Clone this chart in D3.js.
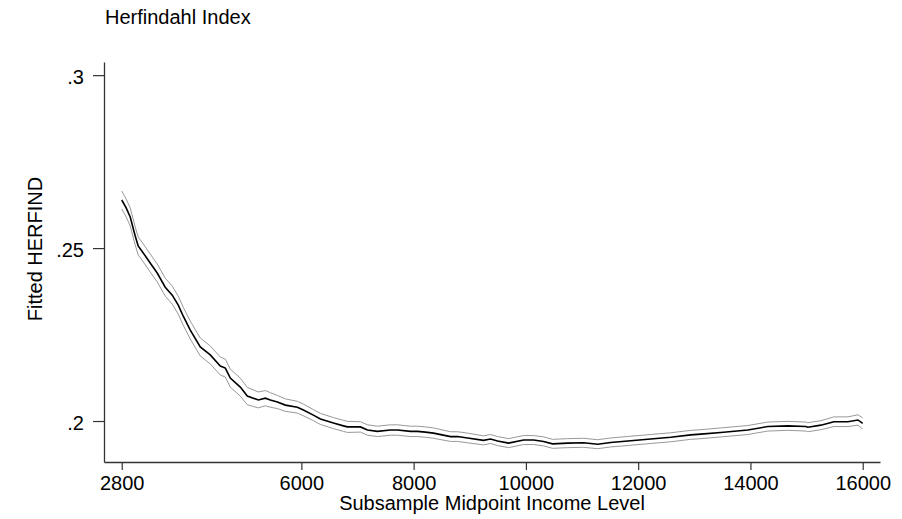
<!DOCTYPE html>
<html>
<head>
<meta charset="utf-8">
<script src="https://cdn.jsdelivr.net/npm/d3@7"></script>
<style>
  html, body { margin: 0; padding: 0; background: #fff; }
  svg { display: block; font-family: "Liberation Sans", Arial, sans-serif; }
</style>
</head>
<body>
<svg id="chart" width="902" height="519"></svg>
<script>
const chartTitle = "Herfindahl Index";
const xTitle = "Subsample Midpoint Income Level";
const yTitle = "Fitted HERFIND";
const xTicks = [2800, 6000, 8000, 10000, 12000, 14000, 16000];
const yTicks = [0.2, 0.25, 0.3];
const yTickLabels = [".2", ".25", ".3"];

const income = [2800, 2879, 2951, 3040, 3093, 3183, 3307, 3432, 3575, 3700, 3807, 3896, 4021, 4199, 4377, 4556, 4645, 4734, 4912, 5037,
  5144, 5233, 5358, 5447, 5572, 5715, 5929, 6036, 6214, 6339, 6571, 6749, 6820, 7052, 7177, 7355, 7587, 7712, 7944, 8069,
  8211, 8354, 8657, 8782, 8960, 9245, 9370, 9495, 9691, 9959, 10137, 10315, 10476, 10743, 11029, 11278, 11510, 11867, 12223, 12580,
  12937, 13115, 13472, 13953, 14310, 14666, 14987, 15023, 15255, 15487, 15736, 15915, 16000];
const fitted = [.2639, .2616, .2590, .2535, .2506, .2486, .2457, .2428, .2387, .2364, .2335, .2303, .2263, .2214, .2191, .2159, .2153, .2124, .2098, .2072,
  .2066, .2061, .2066, .2061, .2055, .2046, .2040, .2032, .2017, .2006, .1994, .1986, .1983, .1983, .1974, .1970, .1974, .1974, .1970, .1970,
  .1968, .1965, .1955, .1955, .1951, .1944, .1948, .1942, .1936, .1945, .1945, .1941, .1934, .1936, .1937, .1933, .1938, .1943, .1948, .1953,
  .1960, .1962, .1967, .1974, .1984, .1986, .1984, .1982, .1988, .1998, .1998, .2003, .1993];
const upper = [.2665, .2642, .2616, .2561, .2532, .2512, .2483, .2454, .2413, .2390, .2361, .2329, .2289, .2240, .2217, .2185, .2179, .2150, .2124, .2097,
  .2090, .2084, .2088, .2082, .2074, .2064, .2057, .2049, .2033, .2022, .2010, .2002, .1999, .1998, .1989, .1985, .1989, .1989, .1985, .1985,
  .1983, .1980, .1969, .1969, .1965, .1957, .1961, .1955, .1949, .1958, .1958, .1954, .1947, .1949, .1950, .1946, .1951, .1956, .1961, .1966,
  .1973, .1975, .1980, .1987, .1997, .1999, .1997, .1995, .2001, .2012, .2012, .2018, .2009];
const lower = [.2613, .2590, .2564, .2509, .2480, .2460, .2431, .2402, .2361, .2338, .2309, .2277, .2237, .2188, .2165, .2133, .2127, .2098, .2072, .2047,
  .2042, .2038, .2044, .2040, .2036, .2028, .2023, .2015, .2001, .1990, .1978, .1970, .1967, .1968, .1959, .1955, .1959, .1959, .1955, .1955,
  .1953, .1950, .1941, .1941, .1937, .1931, .1935, .1929, .1923, .1932, .1932, .1928, .1921, .1923, .1924, .1920, .1925, .1930, .1935, .1940,
  .1947, .1949, .1954, .1961, .1971, .1973, .1971, .1969, .1975, .1984, .1984, .1988, .1977];

const svg = d3.select("#chart");
const mLeft = 104, mRight = 880, mTop = 62, mBottom = 462;

const x = d3.scaleLinear().domain([2484, 16308]).range([mLeft, mRight]);
const y = d3.scaleLinear().domain([0.18815, 0.3038]).range([mBottom, mTop]);

const FS = 20;
const axisColor = "#333";

// axes
const xAxis = svg.append("g").attr("transform", `translate(0,${mBottom})`)
  .call(d3.axisBottom(x).tickValues(xTicks).tickSize(8).tickSizeOuter(0).tickPadding(6).tickFormat(d3.format("d")));
const yAxis = svg.append("g").attr("transform", `translate(${mLeft},0)`)
  .call(d3.axisLeft(y).tickValues(yTicks).tickSize(11).tickSizeOuter(0).tickPadding(9)
    .tickFormat((d, i) => yTickLabels[i]));
[xAxis, yAxis].forEach(g => {
  g.select(".domain").attr("stroke", axisColor).attr("stroke-width", 1.3);
  g.selectAll(".tick line").attr("stroke", axisColor).attr("stroke-width", 1.2);
  g.selectAll(".tick text").attr("fill", "#000").style("font-size", FS + "px")
    .style("font-family", '"Liberation Sans", Arial, sans-serif');
});
yAxis.selectAll(".tick text").attr("dy", "0.42em");

// lines
const pts = arr => income.map((v, k) => [v, arr[k]]);
const line = d3.line().x(d => x(d[0])).y(d => y(d[1]));
svg.append("path").datum(pts(upper)).attr("d", line)
  .attr("fill", "none").attr("stroke", "#999").attr("stroke-width", 1);
svg.append("path").datum(pts(lower)).attr("d", line)
  .attr("fill", "none").attr("stroke", "#999").attr("stroke-width", 1);
svg.append("path").datum(pts(fitted)).attr("d", line)
  .attr("fill", "none").attr("stroke", "#000").attr("stroke-width", 1.6);

// titles
svg.append("text").attr("x", 105).attr("y", 24).style("font-size", FS + "px").text(chartTitle);
svg.append("text").attr("x", (mLeft + mRight) / 2).attr("y", 510).attr("text-anchor", "middle")
  .style("font-size", FS + "px").text(xTitle);
svg.append("text").attr("transform", `translate(42,249) rotate(-90)`).attr("text-anchor", "middle")
  .style("font-size", FS + "px").text(yTitle);
</script>
</body>
</html>
